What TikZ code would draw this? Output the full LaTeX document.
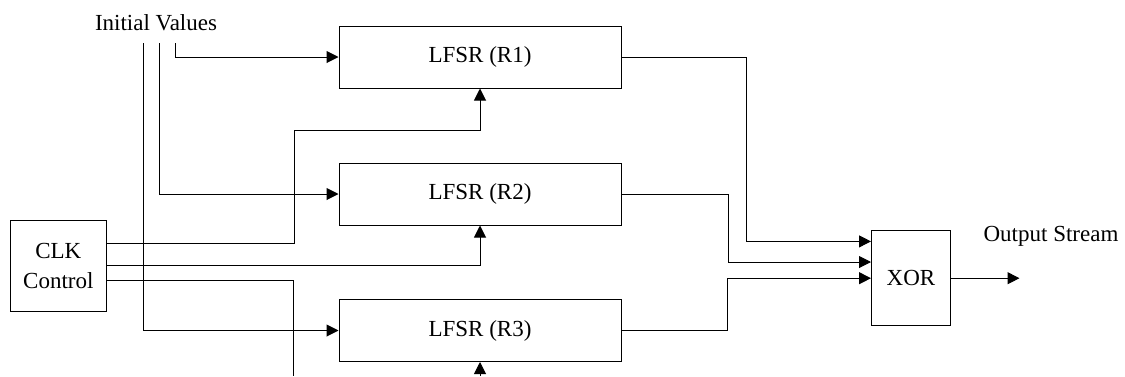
\documentclass[tikz,border=0pt]{standalone}
\usepackage{fontspec}
\setmainfont{Liberation Serif}
\usetikzlibrary{arrows.meta}
\begin{document}
\begin{tikzpicture}[x=1pt,y=-1pt,line width=1pt,
  txt/.style={font=\fontsize{23}{30}\selectfont},
  blk/.style={draw,line width=1pt,inner sep=0pt,txt},
  lfsr/.style={blk,minimum width=282pt,minimum height=62pt},
  lbl/.style={txt,inner sep=0pt},
  conn/.style={-{Triangle[length=12pt,width=12pt]}}]
\useasboundingbox (0,0) rectangle (1125,376);
% blocks
\node[lfsr] (r1) at (480,57) {LFSR (R1)};
\node[lfsr] (r2) at (480,194) {LFSR (R2)};
\node[lfsr] (r3) at (480,330.5) {LFSR (R3)};
\node[blk,minimum width=96pt,minimum height=91pt,align=center] (clk) at (58.3,265.5) {CLK\\Control};
\node[blk,minimum width=79pt,minimum height=95pt] (xor) at (911,278.2) {XOR};
\node[lbl] (iv) at (156,23) {Initial Values};
\node[lbl] (out) at (1051,236) {Output Stream};
% free ends and bends
\coordinate (iv1) at (143.6,43);
\coordinate (iv2) at (159,43);
\coordinate (iv3) at (175,43);
\coordinate (k1) at (294,130);
\coordinate (k3) at (293,376);
\coordinate (b3) at (480,376);
\coordinate (j1) at (746,241.4);
\coordinate (j2) at (728.3,262);
\coordinate (j3) at (727.2,278.2);
\coordinate (oe) at (1019.5,278.2);
% initial values
\draw[conn] (iv3) |- (r1.west);
\draw[conn] (iv2) |- (r2.west);
\draw[conn] (iv1) |- (r3.west);
% clock control
\draw[conn] ([yshift=22pt]clk.east) -| (k1) -| (r1.south);
\draw[conn] (clk.east) -| (r2.south);
\draw ([yshift=-14.5pt]clk.east) -| (k3);
\draw[conn] (b3) -- (r3.south);
% outputs to XOR
\draw[conn] (r1.east) -| (j1) -- (j1 -| xor.west);
\draw[conn] (r2.east) -| (j2) -- (j2 -| xor.west);
\draw[conn] (r3.east) -| (j3) -- (xor.west);
\draw[conn] (xor.east) -- (oe);
\end{tikzpicture}
\end{document}
